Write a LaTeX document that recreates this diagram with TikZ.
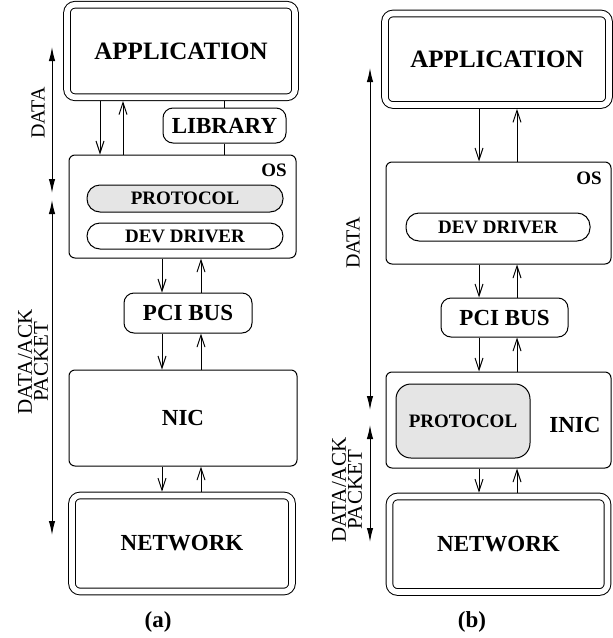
\documentclass[tikz,border=0pt]{standalone}
\usepackage{fontspec}
\setmainfont{Liberation Serif}
\usetikzlibrary{arrows.meta}
\tikzset{
	caja/.style={draw, line width=0.5pt, rounded corners=3pt, inner sep=0pt}, % Cajas de las capas
	doble/.style={caja, double, double distance=2.8pt, rounded corners=4pt, outer sep=1.9pt}, % Cajas con borde doble
	pastilla/.style={caja, rounded corners=6.5pt}, % Cajas con extremos redondos
	gris/.style={fill=gray!20}, % Relleno del protocolo
	grande/.style={font=\bfseries\fontsize{12.5}{14}\selectfont},
	media/.style={font=\bfseries\fontsize{11.5}{13}\selectfont},
	chica/.style={font=\bfseries\fontsize{9.5}{11}\selectfont},
	rotulo/.style={font=\fontsize{10}{8}\selectfont, rotate=90, align=center}, % Texto de los costados
	flecha/.style={-{Straight Barb[length=6pt, width=4pt]}, line width=0.5pt}, % Flechas entre capas
	lado/.style={{Latex[length=7pt, width=3.2pt]}-{Latex[length=7pt, width=3.2pt]}, line width=0.5pt} % Flechas de los costados
}

\begin{document}
\begin{tikzpicture}[x=0.5pt, y=-0.5pt]
	\useasboundingbox (0,0) rectangle (613,638);

	% pila (a)
	\node[doble, minimum width=114pt, minimum height=46.25pt, label={[grande]center:APPLICATION}] (appA) at (181,51) {};
	\node[caja, rounded corners=5pt, minimum width=61.5pt, minimum height=17.5pt, label={[media]center:LIBRARY}] (libA) at (224.5,125.5) {};
	\node[caja, minimum width=113.5pt, minimum height=51.5pt] (osA) at (182.5,206.5) {};
	\node[chica] (osAt) at (274,170) {OS};
	\node[pastilla, gris, chica, minimum width=98pt, minimum height=13.5pt] (protA) at (185,198.5) {PROTOCOL};
	\node[pastilla, chica, minimum width=98pt, minimum height=13pt] (drvA) at (185,236) {DEV DRIVER};
	\node[caja, rounded corners=5pt, minimum width=64pt, minimum height=20pt, label={[media]center:PCI BUS}] (pciA) at (188,313) {};
	\node[caja, minimum width=114pt, minimum height=48pt, label={[media]center:NIC}] (nicA) at (183,418) {};
	\node[doble, minimum width=110pt, minimum height=48pt, label={[media]center:NETWORK}] (netA) at (182,543.5) {};
	\node[media] (capA) at (158,622) {(a)};

	\draw (libA.north) -- (libA.north |- appA.south);
	\draw (libA.south) -- (libA.south |- osA.north);
	\foreach \p/\q/\xa/\xb in {appA/osA/100/123, osA/pciA/162/201, pciA/nicA/162/201, nicA/netA/162/201} {
		\draw[flecha] (\xa,0 |- \p.south) -- (\xa,0 |- \q.north);
		\draw[flecha] (\xb,0 |- \q.north) -- (\xb,0 |- \p.south);
	}

	\coordinate (datAi) at (52,47);
	\coordinate (datAf) at (52,193);
	\coordinate (ackAi) at (52,200);
	\coordinate (ackAf) at (52,535);
	\draw[lado] (datAi) -- (datAf);
	\draw[lado] (ackAi) -- (ackAf);
	\node[rotulo] (datA) at (38,113) {DATA};
	\node[rotulo, font=\fontsize{10.5}{8}\selectfont] (ackA) at (33,362) {DATA/ACK\\PACKET};

	% pila (b)
	\node[doble, minimum width=112pt, minimum height=45.75pt, label={[grande]center:APPLICATION}] (appB) at (497,59.25) {};
	\node[caja, minimum width=112.5pt, minimum height=51pt] (osB) at (498.5,213) {};
	\node[chica] (osBt) at (589,178) {OS};
	\node[pastilla, chica, minimum width=92pt, minimum height=14pt] (drvB) at (498,227) {DEV DRIVER};
	\node[caja, rounded corners=5pt, minimum width=63.5pt, minimum height=19.5pt, label={[media]center:PCI BUS}] (pciB) at (504.5,317.5) {};
	\node[caja, minimum width=112.5pt, minimum height=48pt] (inicB) at (498.5,420) {};
	\node[caja, gris, chica, rounded corners=7.5pt, minimum width=67pt, minimum height=37pt] (protB) at (463,421) {PROTOCOL};
	\node[media] (inicBt) at (575,425) {INIC};
	\node[doble, minimum width=109pt, minimum height=47.75pt, label={[media]center:NETWORK}] (netB) at (498.5,544.25) {};
	\node[media] (capB) at (472,622) {(b)};

	\foreach \p/\q in {appB/osB, osB/pciB, pciB/inicB, inicB/netB} {
		\draw[flecha] (479,0 |- \p.south) -- (479,0 |- \q.north);
		\draw[flecha] (517,0 |- \q.north) -- (517,0 |- \p.south);
	}

	\coordinate (datBi) at (370,68);
	\coordinate (datBf) at (370,410);
	\coordinate (ackBi) at (370,425);
	\coordinate (ackBf) at (370,542);
	\draw[lado] (datBi) -- (datBf);
	\draw[lado] (ackBi) -- (ackBf);
	\node[rotulo] (datB) at (353,243) {DATA};
	\node[rotulo, font=\fontsize{10.5}{8}\selectfont] (ackB) at (347,490) {DATA/ACK\\PACKET};
\end{tikzpicture}
\end{document}
